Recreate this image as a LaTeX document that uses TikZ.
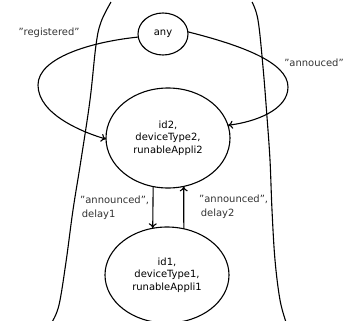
\documentclass[tikz,border=0pt]{standalone}
\usepackage{fontspec}
\setmainfont{DejaVu Sans}
\usetikzlibrary{shapes.geometric,arrows.meta}
\newcommand{\dq}{\symbol{34}}
\begin{document}
\begin{tikzpicture}[x=1bp,y=-1bp,
  state/.style={draw,ellipse,line width=1.1bp,inner sep=0pt,outer sep=0pt,align=center,font=\fontsize{10}{12.8}\selectfont},
  lbl/.style={font=\fontsize{10}{13.5}\selectfont,inner sep=0pt,align=left,text=black!80},
  edge/.style={line width=1.1bp,-{To[length=5bp,width=8bp]}},
  wall/.style={line width=1.1bp}]
\useasboundingbox (0,0) rectangle (347,321);
\clip (0,0) rectangle (347,321);
\node[state,minimum width=50bp,minimum height=42bp] (any) at (163,34) {any};
\node[state,minimum width=124bp,minimum height=100bp] (id2) at (168,138) {id2,\\deviceType2,\\runableAppli2};
\node[state,minimum width=124bp,minimum height=96bp] (id1) at (167,275) {id1,\\deviceType1,\\runableAppli1};
\draw[wall] plot[smooth,tension=0.6] coordinates {(111,2) (101,22) (96,45) (90,100) (81,160) (73,210) (66,262) (59,305) (52,322)};
\draw[wall] plot[smooth,tension=0.6] coordinates {(252,2) (258,20) (263,67) (267,117) (270,160) (272,210) (275,260) (280,300) (286,322)};
\draw[edge] (any.187) .. controls (90,42) and (38,58) .. (38,85) .. controls (38,115) and (85,133) .. (id2.181);
\draw[edge] (any.5) .. controls (240,45) and (288,62) .. (288,87) .. controls (288,110) and (255,122) .. (id2.12);
\draw[edge] (id2.253) -- (id1.107);
\draw[edge] (id1.70) -- (id2.288);
\node[lbl] (reg) at (49,33) {\dq registered\dq};
\node[lbl] (ann) at (314,63) {\dq annouced\dq};
\node[lbl,anchor=north west] (l1) at (80,196) {\dq announced\dq,\\\,delay1};
\node[lbl,anchor=north west] (l2) at (199,195) {\dq announced\dq,\\\,delay2};
\end{tikzpicture}
\end{document}
